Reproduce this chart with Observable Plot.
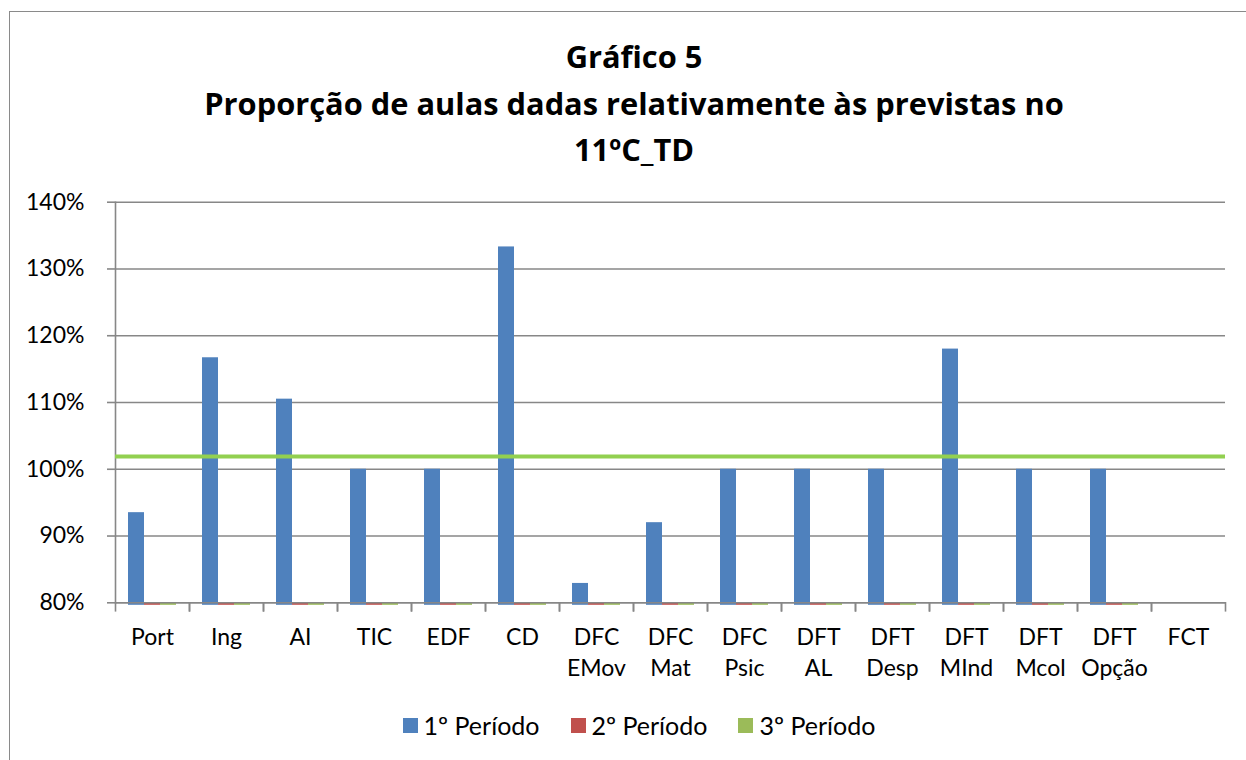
<!DOCTYPE html>
<html>
<head>
<meta charset="utf-8">
<script src="https://cdn.jsdelivr.net/npm/d3@7"></script>
<script src="https://cdn.jsdelivr.net/npm/@observablehq/plot@0.6"></script>
<style>
  html, body { margin: 0; padding: 0; background: #fff; }
  body { width: 1246px; height: 760px; overflow: hidden; position: relative; font-family: Lato, "Open Sans", sans-serif; }
  #frame { position: absolute; left: 8.5px; top: 10.5px; width: 1400px; height: 1000px; border: 1.5px solid #8a8a8a; box-sizing: border-box; }
  #title { position: absolute; left: 0; width: 1268px; top: 33px; text-align: center; font-family: "Open Sans", sans-serif; font-weight: bold; font-size: 30.8px; line-height: 46.5px; color: #000; }
  #chart { position: absolute; left: 0; top: 180px; }
  #legend { position: absolute; top: 710px; left: 16px; width: 1246px; display: flex; justify-content: center; gap: 0; font-size: 25px; color: #000; }
  .item { display: flex; align-items: center; margin: 0 15.5px; }
  .sw { width: 15px; height: 15px; margin-right: 6px; }
</style>
</head>
<body>
<div id="frame"></div>
<div id="title"></div>
<div id="chart"></div>
<div id="legend"></div>
<script>
const titleLines = ["Gráfico 5", "Proporção de aulas dadas relativamente às previstas no", "11ºC_TD"];
const categories = ["Port", "Ing", "AI", "TIC", "EDF", "CD", "DFC EMov", "DFC Mat", "DFC Psic", "DFT AL", "DFT Desp", "DFT MInd", "DFT Mcol", "DFT Opção", "FCT"];
const series = ["1º Período", "2º Período", "3º Período"];
const colors = ["#4F81BD", "#C0504D", "#9BBB59"];
const periodo1 = [0.935, 1.167, 1.105, 1.0, 1.0, 1.333, 0.829, 0.92, 1.0, 1.0, 1.0, 1.18, 1.0, 1.0, null];
const periodo2 = [0, 0, 0, 0, 0, 0, 0, 0, 0, 0, 0, 0, 0, 0, null];
const periodo3 = [0, 0, 0, 0, 0, 0, 0, 0, 0, 0, 0, 0, 0, 0, null];
const yTicks = [0.8, 0.9, 1.0, 1.1, 1.2, 1.3, 1.4];
const linhaReferencia = [1.019];

const seriesValues = [periodo1, periodo2, periodo3];
const data = categories.flatMap((c, i) => series.map((s, j) => ({cat: c, serie: s, value: seriesValues[j][i]})));

document.getElementById("title").innerHTML = titleLines.map(t => `<div>${t}</div>`).join("");

const W = 1246, H = 520, mT = 21.7, mB = 97.7, mL = 110, mR = 17;
const innerH = H - mT - mB;
const gray = "#878787";

const chart = Plot.plot({
  width: W, height: H,
  marginLeft: mL, marginRight: mR, marginTop: mT, marginBottom: mB,
  style: {fontFamily: "Lato, 'Open Sans', sans-serif", fontSize: "23px", color: "#000", background: "transparent"},
  fx: {domain: categories, paddingInner: 0, paddingOuter: 0, label: null},
  x: {domain: series, paddingInner: 0, paddingOuter: 0.75, axis: null},
  y: {domain: [0.8, 1.4], clamp: true, label: null},
  color: {domain: series, range: colors},
  marks: [
    Plot.gridY(yTicks, {stroke: gray, strokeOpacity: 1, strokeWidth: 1.6}),
    Plot.barY(data, {fx: "cat", x: "serie", y1: () => 0.8, y2: "value", fill: "serie", insetBottom: -2.5, insetLeft: 0, insetRight: 0}),
    Plot.ruleY([0.8], {stroke: gray, strokeWidth: 1.6}),
    Plot.frame({anchor: "left", facetAnchor: "left", stroke: gray, strokeWidth: 1.6}),
    Plot.frame({anchor: "left", insetTop: innerH, insetBottom: -8, stroke: gray, strokeWidth: 1.6}),
    Plot.frame({anchor: "right", insetTop: innerH, insetBottom: -8, stroke: gray, strokeWidth: 1.6}),
    Plot.ruleY(linhaReferencia, {stroke: "#92D050", strokeWidth: 4}),
    Plot.axisY({anchor: "left", ticks: yTicks, tickFormat: d => Math.round(d * 100) + "%", tickSize: 8, tickPadding: 23, stroke: gray, strokeWidth: 1.6, fontSize: 23, label: null}),
    Plot.axisFx({anchor: "bottom", tickSize: 0, tickPadding: 20, tickFormat: d => d.replace(" ", "\n"), lineHeight: 1.36, fontSize: 23, label: null})
  ]
});
document.getElementById("chart").appendChild(chart);

document.getElementById("legend").innerHTML = series.map((s, i) =>
  `<div class="item"><div class="sw" style="background:${colors[i]}"></div><span>${s}</span></div>`).join("");
</script>
</body>
</html>
